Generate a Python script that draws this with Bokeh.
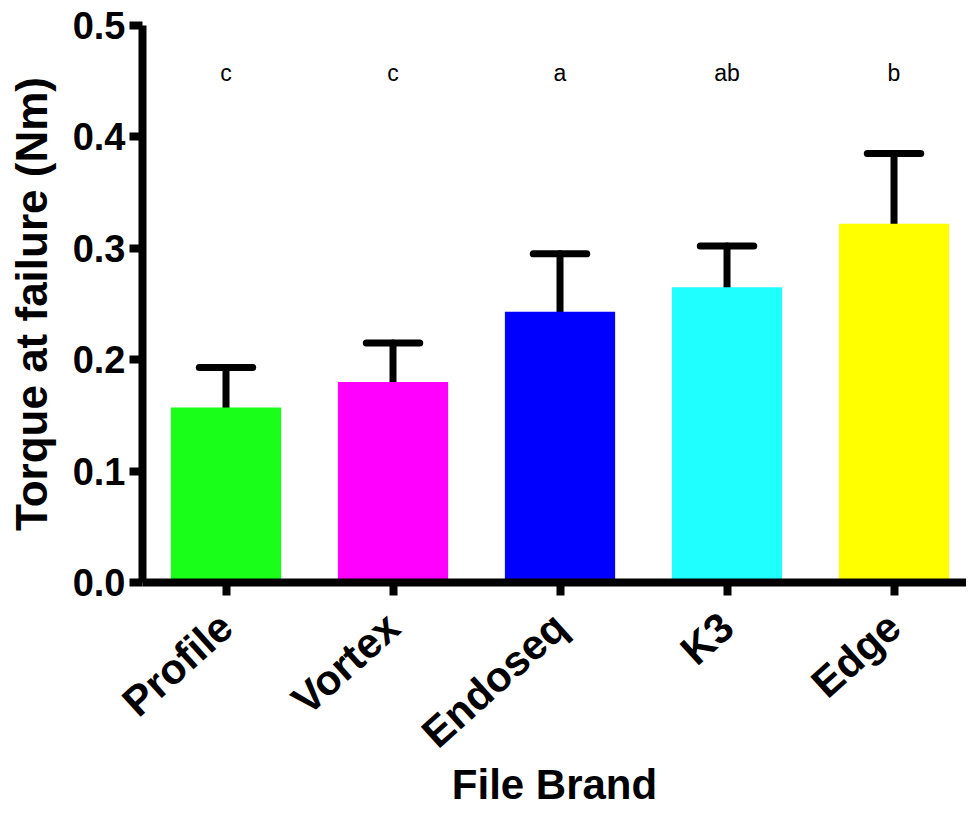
import math
import numpy as np
from bokeh.plotting import figure
from bokeh.models import Range1d, FixedTicker, PrintfTickFormatter, ColumnDataSource
from bokeh.core.properties import value
from bokeh.embed import file_html
from bokeh.resources import INLINE

# ---- data ----
brands = ["Profile", "Vortex", "Endoseq", "K3", "Edge"]
means = [0.157, 0.180, 0.243, 0.265, 0.322]
sds = [0.036, 0.035, 0.052, 0.037, 0.063]
letters = ["c", "c", "a", "ab", "b"]
colors = ["#1AFF1A", "#FF00FF", "#0000FF", "#1FFFFF", "#FFFF00"]
y_ticks = [0.0, 0.1, 0.2, 0.3, 0.4, 0.5]
letter_y = 0.457

FONT = "Liberation Sans"

pos = np.arange(len(brands)) + 0.5
upper = [m + s for m, s in zip(means, sds)]
cap_half = 0.16

src = ColumnDataSource(dict(x=pos, top=means, upper=upper, color=colors,
                            letter=letters, ly=[letter_y] * len(brands),
                            cl=pos - cap_half, cr=pos + cap_half))

p = figure(width=966, height=812, x_range=Range1d(0, 4.934), y_range=Range1d(0, 0.5),
           output_backend="svg", toolbar_location=None,
           min_border_left=142, min_border_top=25, min_border_bottom=230, min_border_right=0)
p.outline_line_color = None
p.grid.grid_line_color = None
p.background_fill_color = "white"
p.border_fill_color = "white"

# error bars (upper only)
p.segment(x0="x", y0="top", x1="x", y1="upper", source=src, line_color="black",
          line_width=7, line_cap="round")
p.segment(x0="cl", y0="upper", x1="cr", y1="upper", source=src, line_color="black",
          line_width=7, line_cap="round")

p.vbar(x="x", top="top", bottom=0, width=0.66, source=src, fill_color="color",
       line_color=None)

p.text(x="x", y="ly", text="letter", source=src, text_font=value(FONT),
       text_font_size="23px", text_align="center", text_baseline="alphabetic",
       text_color="black")

# axes styling
for ax in (p.xaxis[0], p.yaxis[0]):
    ax.axis_line_width = 8
    ax.axis_line_color = "black"
    ax.major_tick_line_width = 8
    ax.major_tick_line_color = "black"
    ax.major_tick_out = 13
    ax.major_tick_in = 0
    ax.minor_tick_line_color = None
    ax.major_label_text_font = FONT
    ax.major_label_text_font_style = "bold"
    ax.major_label_text_color = "black"
    ax.axis_label_text_font = FONT
    ax.axis_label_text_font_style = "bold"
    ax.axis_label_text_color = "black"

p.yaxis.ticker = FixedTicker(ticks=y_ticks)
p.yaxis.formatter = PrintfTickFormatter(format="%.1f")
p.yaxis.major_label_text_font_size = "38px"
p.yaxis.major_label_standoff = 4
p.yaxis.axis_label = "Torque at failure (Nm)"
p.yaxis.axis_label_text_font_size = "44px"
p.yaxis.axis_label_standoff = 14

p.xaxis.ticker = FixedTicker(ticks=list(pos))
p.xaxis.major_label_overrides = {float(v): b for v, b in zip(pos, brands)}
p.xaxis.major_label_orientation = math.radians(42)
p.xaxis.major_label_text_font_size = "42px"
p.xaxis.major_label_standoff = 25
p.xaxis.axis_label = "File Brand"
p.xaxis.axis_label_text_font_size = "42px"
p.xaxis.axis_label_standoff = -16

open("out.html", "w").write(file_html(p, INLINE))
